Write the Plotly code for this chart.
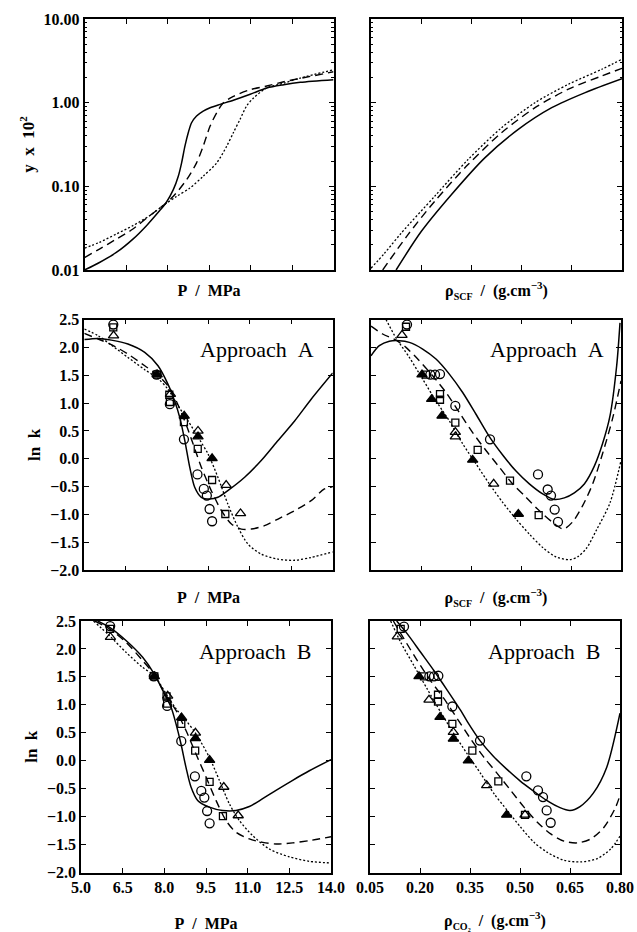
import plotly.graph_objects as go

W, H = 637, 932

# ---------------- DATA ----------------
# Panel 1: y x 10^2 vs P (top-left)
p1_P_solid = [5.0, 5.54, 6.15, 6.75, 7.24, 7.72, 7.96, 8.21, 8.39, 8.51, 8.63, 8.75, 8.87, 9.05, 9.29, 9.54, 9.90, 10.38, 10.99, 11.59, 12.2, 12.8, 14.0]
p1_y_solid = [0.0100, 0.0123, 0.0162, 0.0234, 0.0339, 0.0513, 0.0646, 0.0912, 0.132, 0.191, 0.302, 0.437, 0.575, 0.692, 0.794, 0.871, 0.955, 1.07, 1.26, 1.50, 1.64, 1.75, 1.88]
p1_P_dash = [5.0, 5.54, 6.15, 6.75, 7.36, 7.84, 8.21, 8.69, 9.05, 9.29, 9.54, 9.78, 10.02, 10.38, 10.99, 11.59, 12.2, 12.8, 14.0]
p1_y_dash = [0.0141, 0.0178, 0.0234, 0.0309, 0.0447, 0.0589, 0.0759, 0.120, 0.191, 0.302, 0.525, 0.759, 1.00, 1.19, 1.43, 1.58, 1.78, 1.95, 2.34]
p1_P_dot = [5.0, 5.54, 6.15, 6.75, 7.36, 7.84, 8.33, 8.81, 9.29, 9.78, 10.14, 10.38, 10.62, 10.86, 11.11, 11.59, 12.2, 12.8, 14.0]
p1_y_dot = [0.0182, 0.0214, 0.0269, 0.0339, 0.0447, 0.0589, 0.0759, 0.0955, 0.132, 0.191, 0.302, 0.437, 0.631, 0.912, 1.14, 1.50, 1.71, 1.97, 2.47]

# Panel 2: y x 10^2 vs rho_SCF (top-right)
p2_r_solid = [0.125, 0.20, 0.29, 0.39, 0.49, 0.59, 0.69, 0.80]
p2_y_solid = [0.0100, 0.0288, 0.0794, 0.219, 0.479, 0.871, 1.32, 1.93]
p2_r_dash = [0.085, 0.16, 0.24, 0.34, 0.44, 0.54, 0.64, 0.74, 0.80]
p2_y_dash = [0.0100, 0.0263, 0.0661, 0.182, 0.437, 0.871, 1.45, 2.09, 2.57]
p2_r_dot = [0.05, 0.09, 0.14, 0.24, 0.34, 0.44, 0.54, 0.64, 0.74, 0.80]
p2_y_dot = [0.0105, 0.0158, 0.0275, 0.0759, 0.209, 0.501, 1.00, 1.66, 2.51, 3.31]

# Panel 3: ln k vs P, Approach A (middle-left)
p3_P_solid = [5.0, 5.5, 5.98, 6.58, 7.19, 7.67, 8.03, 8.27, 8.46, 8.64, 8.82, 9.0, 9.24, 9.54, 9.84, 10.2, 10.81, 11.41, 12.02, 12.62, 13.22, 14.0]
p3_k_solid = [2.14, 2.16, 2.13, 2.06, 1.91, 1.67, 1.34, 1.04, 0.74, 0.33, -0.15, -0.51, -0.69, -0.72, -0.69, -0.57, -0.33, -0.03, 0.33, 0.68, 1.07, 1.54]
p3_P_dash = [5.0, 5.5, 5.98, 6.58, 7.19, 7.67, 8.03, 8.33, 8.64, 8.94, 9.24, 9.6, 9.97, 10.33, 10.69, 11.05, 11.53, 12.02, 12.62, 13.22, 13.7, 14.0]
p3_k_dash = [2.25, 2.15, 2.05, 1.88, 1.67, 1.50, 1.31, 1.04, 0.68, 0.27, -0.15, -0.57, -0.93, -1.17, -1.26, -1.26, -1.20, -1.08, -0.93, -0.75, -0.54, -0.50]
p3_P_dot = [5.0, 5.5, 5.98, 6.58, 7.19, 7.67, 8.03, 8.4, 8.76, 9.12, 9.48, 9.84, 10.2, 10.57, 10.93, 11.41, 12.02, 12.62, 13.22, 14.0]
p3_k_dot = [2.33, 2.21, 2.04, 1.82, 1.60, 1.44, 1.25, 0.95, 0.68, 0.39, 0.09, -0.33, -0.81, -1.23, -1.53, -1.71, -1.80, -1.82, -1.77, -1.67]

# Panel 4: ln k vs rho_SCF, Approach A (middle-right)
p4_r_solid = [0.05, 0.075, 0.105, 0.135, 0.165, 0.205, 0.245, 0.285, 0.325, 0.365, 0.405, 0.445, 0.485, 0.525, 0.565, 0.600, 0.630, 0.660, 0.690, 0.720, 0.745, 0.767, 0.787, 0.797]
p4_k_solid = [1.85, 2.03, 2.11, 2.12, 2.09, 1.97, 1.79, 1.52, 1.19, 0.80, 0.40, 0.07, -0.22, -0.45, -0.63, -0.73, -0.70, -0.61, -0.45, -0.13, 0.28, 0.77, 1.67, 2.44]
p4_r_dash = [0.05, 0.085, 0.125, 0.155, 0.195, 0.235, 0.275, 0.315, 0.355, 0.395, 0.435, 0.475, 0.515, 0.555, 0.595, 0.627, 0.655, 0.685, 0.715, 0.745, 0.775, 0.80]
p4_k_dash = [2.38, 2.24, 2.13, 2.0, 1.76, 1.49, 1.19, 0.83, 0.47, 0.15, -0.15, -0.45, -0.69, -0.93, -1.14, -1.26, -1.13, -0.84, -0.45, 0.10, 0.73, 1.40]
p4_r_dot = [0.095, 0.125, 0.165, 0.205, 0.245, 0.285, 0.325, 0.365, 0.405, 0.445, 0.485, 0.525, 0.565, 0.605, 0.647, 0.672, 0.697, 0.727, 0.767, 0.80]
p4_k_dot = [2.50, 2.17, 1.82, 1.43, 1.04, 0.68, 0.27, -0.09, -0.45, -0.78, -1.08, -1.35, -1.59, -1.76, -1.81, -1.75, -1.60, -1.27, -0.79, -0.03]

# Panel 5: ln k vs P, Approach B (bottom-left)
p5_P_solid = [5.6, 6.02, 6.62, 7.22, 7.64, 8.0, 8.24, 8.42, 8.6, 8.78, 8.96, 9.2, 9.62, 10.1, 10.58, 11.06, 11.54, 12.02, 12.62, 13.22, 14.0]
p5_k_solid = [2.5, 2.39, 2.15, 1.85, 1.55, 1.2, 0.96, 0.66, 0.30, -0.12, -0.47, -0.71, -0.83, -0.89, -0.89, -0.82, -0.68, -0.53, -0.35, -0.18, 0.02]
p5_P_dash = [5.5, 6.02, 6.62, 7.22, 7.64, 8.0, 8.42, 8.78, 9.14, 9.5, 9.86, 10.22, 10.58, 11.06, 11.54, 12.02, 12.62, 13.22, 14.0]
p5_k_dash = [2.5, 2.36, 2.12, 1.79, 1.54, 1.22, 0.90, 0.54, 0.12, -0.29, -0.71, -1.07, -1.28, -1.40, -1.46, -1.49, -1.47, -1.43, -1.36]
p5_P_dot = [5.45, 6.02, 6.62, 7.22, 7.64, 8.0, 8.42, 8.78, 9.14, 9.62, 9.98, 10.34, 10.7, 11.18, 11.78, 12.5, 13.22, 14.0]
p5_k_dot = [2.5, 2.24, 1.94, 1.67, 1.52, 1.25, 0.93, 0.72, 0.48, 0.06, -0.35, -0.77, -1.07, -1.34, -1.58, -1.72, -1.80, -1.83]

# Panel 6: ln k vs rho_CO2, Approach B (bottom-right)
p6_r_solid = [0.13, 0.162, 0.202, 0.242, 0.282, 0.322, 0.342, 0.38, 0.42, 0.46, 0.50, 0.54, 0.58, 0.62, 0.65, 0.68, 0.72, 0.76, 0.80]
p6_k_solid = [2.5, 2.27, 1.94, 1.61, 1.26, 0.90, 0.70, 0.36, 0.08, -0.15, -0.36, -0.54, -0.71, -0.84, -0.89, -0.82, -0.58, -0.12, 0.85]
p6_r_dash = [0.12, 0.152, 0.192, 0.232, 0.272, 0.312, 0.352, 0.392, 0.432, 0.472, 0.512, 0.552, 0.592, 0.632, 0.672, 0.712, 0.752, 0.787, 0.80]
p6_k_dash = [2.5, 2.18, 1.79, 1.43, 1.11, 0.75, 0.39, 0.06, -0.23, -0.53, -0.83, -1.10, -1.31, -1.44, -1.47, -1.40, -1.19, -0.83, -0.62]
p6_r_dot = [0.112, 0.142, 0.182, 0.222, 0.262, 0.302, 0.342, 0.382, 0.422, 0.462, 0.502, 0.542, 0.582, 0.632, 0.682, 0.732, 0.772, 0.80]
p6_k_dot = [2.5, 2.12, 1.70, 1.28, 0.87, 0.48, 0.12, -0.23, -0.59, -0.89, -1.19, -1.46, -1.64, -1.78, -1.81, -1.75, -1.58, -1.35]

# Experimental points vs P (panels 3 and 5)
expP_circ_P = [6.05, 7.62, 8.10, 8.61, 9.10, 9.33, 9.44, 9.54, 9.63]
expP_circ_k = [2.41, 1.51, 0.98, 0.35, -0.28, -0.54, -0.66, -0.90, -1.12]
expP_sq_P = [6.05, 7.64, 8.08, 8.10, 8.61, 9.11, 9.63, 10.11]
expP_sq_k = [2.36, 1.51, 1.15, 1.02, 0.66, 0.18, -0.38, -0.99]
expP_tri_P = [6.06, 8.12, 9.12, 10.14, 10.66]
expP_tri_k = [2.21, 1.16, 0.50, -0.47, -0.98]
expP_ftri_P = [7.64, 8.62, 9.12, 9.63]
expP_ftri_k = [1.51, 0.77, 0.40, 0.01]

# Experimental points vs rho_SCF (panel 4)
expS_circ_r = [0.158, 0.228, 0.242, 0.257, 0.303, 0.407, 0.551, 0.580, 0.590, 0.601, 0.611]
expS_circ_k = [2.41, 1.51, 1.51, 1.52, 0.95, 0.35, -0.28, -0.55, -0.66, -0.91, -1.13]
expS_sq_r = [0.155, 0.215, 0.257, 0.257, 0.303, 0.370, 0.467, 0.553]
expS_sq_k = [2.37, 1.51, 1.16, 1.06, 0.65, 0.16, -0.39, -1.01]
expS_tri_r = [0.143, 0.303, 0.303, 0.418]
expS_tri_k = [2.22, 0.48, 0.40, -0.45]
expS_ftri_r = [0.203, 0.232, 0.263, 0.355, 0.492]
expS_ftri_k = [1.51, 1.07, 0.77, -0.02, -0.99]

# Experimental points vs rho_CO2 (panel 6)
expC_circ_r = [0.152, 0.228, 0.242, 0.255, 0.297, 0.380, 0.519, 0.554, 0.569, 0.580, 0.592]
expC_circ_k = [2.40, 1.51, 1.51, 1.52, 0.97, 0.36, -0.28, -0.53, -0.65, -0.89, -1.11]
expC_sq_r = [0.142, 0.212, 0.254, 0.254, 0.297, 0.357, 0.435, 0.515]
expC_sq_k = [2.36, 1.51, 1.18, 1.06, 0.66, 0.18, -0.37, -0.97]
expC_tri_r = [0.132, 0.227, 0.300, 0.400, 0.515]
expC_tri_k = [2.22, 1.09, 0.51, -0.44, -0.97]
expC_ftri_r = [0.197, 0.260, 0.300, 0.345, 0.460]
expC_ftri_k = [1.51, 0.78, 0.39, 0.0, -0.97]

P_ticks = [5.0, 6.5, 8.0, 9.5, 11.0, 12.5, 14.0]
P_ticktext = ["5.0", "6.5", "8.0", "9.5", "11.0", "12.5", "14.0"]
rho_ticks = [0.05, 0.20, 0.35, 0.50, 0.65, 0.80]
rho_ticktext = ["0.05", "0.20", "0.35", "0.50", "0.65", "0.80"]
lnk_ticks = [2.5, 2.0, 1.5, 1.0, 0.5, 0.0, -0.5, -1.0, -1.5, -2.0]
lnk_ticktext = ["2.5", "2.0", "1.5", "1.0", "0.5", "0.0", "\u22120.5", "\u22121.0", "\u22121.5", "\u22122.0"]
y_ticks = [0.01, 0.1, 1.0, 10.0]
y_ticktext = ["0.01", "0.10", "1.00", "10.00"]

# ---------------- FIGURE ----------------
SERIF = "Liberation Serif, Times New Roman, serif"
fig = go.Figure()

def line(x, y, ax, style):
    dash = {"solid": "solid", "dash": "8px,5px", "dot": "2px,2px"}[style]
    width = {"solid": 1.5, "dash": 1.4, "dot": 1.3}[style]
    fig.add_trace(go.Scatter(x=x, y=y, mode="lines", xaxis="x" + ax, yaxis="y" + ax,
                             line=dict(color="black", width=width, dash=dash, shape="spline", smoothing=0.8),
                             showlegend=False, hoverinfo="skip"))

def pts(x, y, ax, sym, size):
    fig.add_trace(go.Scatter(x=x, y=y, mode="markers", xaxis="x" + ax, yaxis="y" + ax,
                             marker=dict(symbol=sym, size=size, color="black",
                                         line=dict(color="black", width=1.3)),
                             showlegend=False, cliponaxis=False))

curves = [
    ("", p1_P_solid, p1_y_solid, p1_P_dash, p1_y_dash, p1_P_dot, p1_y_dot),
    ("2", p2_r_solid, p2_y_solid, p2_r_dash, p2_y_dash, p2_r_dot, p2_y_dot),
    ("3", p3_P_solid, p3_k_solid, p3_P_dash, p3_k_dash, p3_P_dot, p3_k_dot),
    ("4", p4_r_solid, p4_k_solid, p4_r_dash, p4_k_dash, p4_r_dot, p4_k_dot),
    ("5", p5_P_solid, p5_k_solid, p5_P_dash, p5_k_dash, p5_P_dot, p5_k_dot),
    ("6", p6_r_solid, p6_k_solid, p6_r_dash, p6_k_dash, p6_r_dot, p6_k_dot),
]
for ax, xs, ys, xd, yd, xo, yo in curves:
    line(xs, ys, ax, "solid")
    line(xd, yd, ax, "dash")
    line(xo, yo, ax, "dot")

for ax in ["3", "5"]:
    pts(expP_circ_P, expP_circ_k, ax, "circle-open", 9)
    pts(expP_sq_P, expP_sq_k, ax, "square-open", 7)
    pts(expP_tri_P, expP_tri_k, ax, "triangle-up-open", 9)
    pts(expP_ftri_P, expP_ftri_k, ax, "triangle-up", 9)
pts(expS_circ_r, expS_circ_k, "4", "circle-open", 9)
pts(expS_sq_r, expS_sq_k, "4", "square-open", 7)
pts(expS_tri_r, expS_tri_k, "4", "triangle-up-open", 9)
pts(expS_ftri_r, expS_ftri_k, "4", "triangle-up", 9)
pts(expC_circ_r, expC_circ_k, "6", "circle-open", 9)
pts(expC_sq_r, expC_sq_k, "6", "square-open", 7)
pts(expC_tri_r, expC_tri_k, "6", "triangle-up-open", 9)
pts(expC_ftri_r, expC_ftri_k, "6", "triangle-up", 9)

def dx(a, b):
    return [a / W, b / W]

def dy(top, bottom):
    return [1 - bottom / H, 1 - top / H]

tickfont = dict(family=SERIF, size=16, color="black", weight="bold")
titlefont = dict(family=SERIF, size=16, color="black", weight="bold")
ytitlefont = dict(family=SERIF, size=17, color="black", weight="bold")
base = dict(showline=True, linecolor="black", linewidth=1.5, mirror="ticks",
            ticks="inside", ticklen=5, tickwidth=1.2, tickcolor="black",
            showgrid=False, zeroline=False, automargin=False, tickfont=tickfont)

SP = "\u00a0\u00a0"
SUB = "<span style='font-size:10px;baseline-shift:-4px'>{}</span>"
SUP = "<span style='font-size:11px;baseline-shift:7px'>{}</span>"
P_title = "P" + SP + "/" + SP + "MPa"
rhoS_title = "\u03c1" + SUB.format("SCF") + SP + "/" + SP + "(g.cm" + SUP.format("\u22123") + ")"
rhoC_title = "\u03c1" + SUB.format("CO\u2082") + SP + "/" + SP + "(g.cm" + SUP.format("\u22123") + ")"
lnk_title = "ln" + SP + "k"
y_title = "y" + SP + "x" + SP + "10" + SUP.format("2")

panels = {
    "": dict(xd=dx(84.5, 333.5), yd=dy(19, 270)),
    "2": dict(xd=dx(371, 622), yd=dy(19, 270)),
    "3": dict(xd=dx(84.3, 332.7), yd=dy(319.5, 570.3)),
    "4": dict(xd=dx(371, 621), yd=dy(319.5, 570.3)),
    "5": dict(xd=dx(81, 331), yd=dy(621, 872.5)),
    "6": dict(xd=dx(370, 620), yd=dy(621, 872.5)),
}

layout = dict(width=W, height=H, margin=dict(l=0, r=0, t=0, b=0),
              paper_bgcolor="white", plot_bgcolor="white", showlegend=False,
              font=dict(family=SERIF, size=16, color="black"))

for ax, p in panels.items():
    is_P = ax in ("", "3", "5")
    bottom = ax in ("5", "6")
    top = ax in ("", "2")
    xa = dict(base, domain=p["xd"], anchor="y" + ax)
    if is_P:
        xa.update(range=[5.0, 14.0], tickvals=P_ticks, ticktext=P_ticktext)
        xtitle = P_title
    else:
        xa.update(range=[0.05, 0.80], tickvals=rho_ticks, ticktext=rho_ticktext)
        xtitle = rhoC_title if ax == "6" else rhoS_title
    xa.update(showticklabels=bottom,
              title=dict(text=xtitle, font=titlefont, standoff=(27 if bottom else (14 if top else 21))))
    ya = dict(base, domain=p["yd"], anchor="x" + ax)
    if top:
        ya.update(type="log", range=[-2, 1], tickvals=y_ticks, ticktext=y_ticktext,
                  minor=dict(ticks="inside", ticklen=2.5, tickwidth=1, tickcolor="black",
                             tickvals=[m * 10 ** e for e in (-2, -1, 0) for m in range(2, 10)]))
        ytitle = y_title
    else:
        ya.update(range=[-2.0, 2.5], tickvals=lnk_ticks, ticktext=lnk_ticktext)
        ytitle = lnk_title
    ya.update(showticklabels=is_P)
    if is_P:
        ya.update(title=dict(text=ytitle, font=ytitlefont, standoff=5))
    layout["xaxis" + ax] = xa
    layout["yaxis" + ax] = ya

annots = [
    ("Approach" + SP + "A", 316, 349),
    ("Approach" + SP + "A", 606, 349),
    ("Approach" + SP + "B", 313, 651),
    ("Approach" + SP + "B", 602, 651),
]
layout["annotations"] = [
    dict(text=t, x=xr / W, y=1 - yc / H, xref="paper", yref="paper",
         xanchor="right", yanchor="middle", showarrow=False,
         font=dict(family=SERIF, size=22, color="black"))
    for t, xr, yc in annots
]

fig.update_layout(**layout)
fig.write_html("out.html", config={"displayModeBar": False})
